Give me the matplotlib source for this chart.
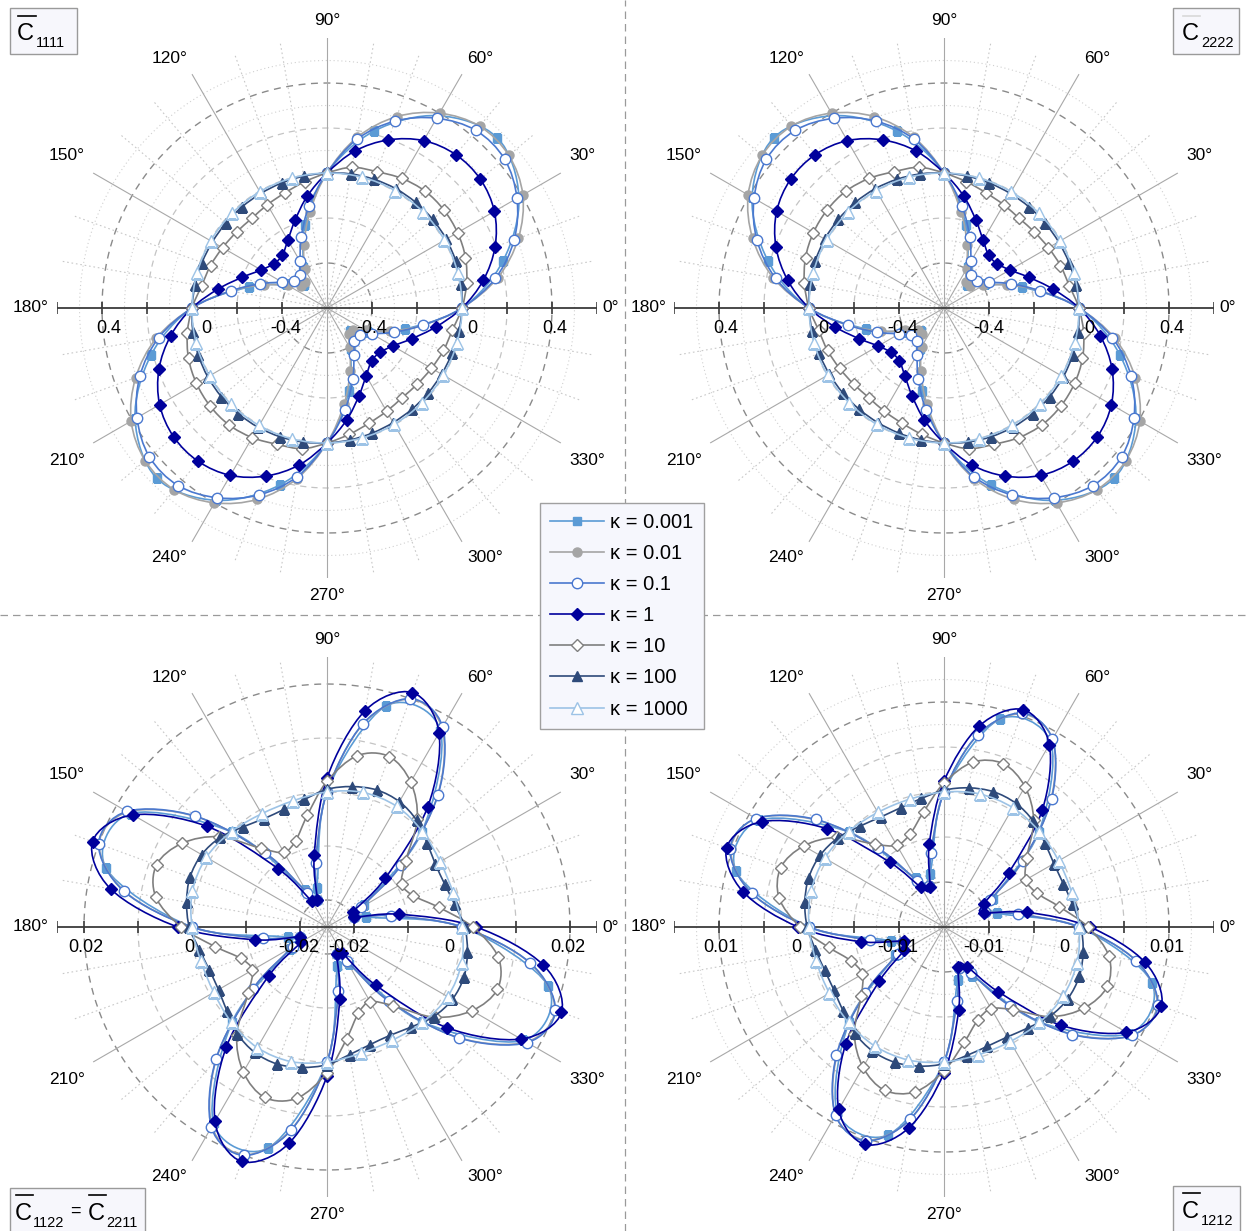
import numpy as np
import matplotlib
matplotlib.use("Agg")
import matplotlib.pyplot as plt
from matplotlib.lines import Line2D
from matplotlib.patches import Rectangle, PathPatch
from matplotlib.path import Path

plt.rcParams['font.family'] = ['Liberation Sans', 'DejaVu Sans']

# ------------------------------------------------------------------ data
labels = ['κ = 0.001', 'κ = 0.01', 'κ = 0.1', 'κ = 1', 'κ = 10', 'κ = 100', 'κ = 1000']

# C1111 / C2222: read over half a turn (the chart repeats every 180 deg)
ang10_half = [0, 10, 20, 30, 40, 50, 60, 70, 80, 90, 100, 110, 120, 130, 140, 150, 160, 170]
ang15_half = [0, 15, 30, 45, 60, 75, 90, 105, 120, 135, 150, 165]

c1111_k0001 = [0.0, 0.21, 0.385, 0.47, 0.387, 0.215, 0.0, -0.22, -0.39, -0.455, -0.39, -0.24]
c1111_k001 = [0.0, 0.17, 0.305, 0.405, 0.455, 0.455, 0.40, 0.305, 0.17, 0.0, -0.165, -0.30, -0.40, -0.45, -0.45, -0.40, -0.30, -0.165]
c1111_k01 = [0.0, 0.16, 0.285, 0.375, 0.43, 0.43, 0.374, 0.284, 0.161, 0.0, -0.14, -0.265, -0.36, -0.41, -0.41, -0.37, -0.285, -0.165]
c1111_k1 = [0.0, 0.105, 0.195, 0.259, 0.29, 0.29, 0.259, 0.195, 0.108, 0.0, -0.095, -0.185, -0.252, -0.292, -0.293, -0.262, -0.20, -0.11]
c1111_k10 = [0.0, 0.03, 0.055, 0.07, 0.078, 0.078, 0.065, 0.045, 0.035, 0.0, -0.03, -0.055, -0.07, -0.08, -0.075, -0.064, -0.049, -0.034]
c1111_k100 = [0.0, 0.005, 0.009, 0.012, 0.013, 0.013, 0.012, 0.009, 0.005, 0.0, -0.005, -0.009, -0.012, -0.013, -0.013, -0.012, -0.009, -0.005]
c1111_k1000 = [0.0, 0.002, 0.003, 0.004, 0.003, 0.002, 0.0, -0.002, -0.003, -0.004, -0.003, -0.002]

c2222_k0001 = [0.0, -0.24, -0.39, -0.455, -0.39, -0.22, 0.0, 0.215, 0.387, 0.47, 0.385, 0.21]
c2222_k001 = [0.0, -0.165, -0.30, -0.40, -0.45, -0.45, -0.40, -0.30, -0.165, 0.0, 0.17, 0.305, 0.40, 0.455, 0.455, 0.405, 0.305, 0.17]
c2222_k01 = [0.0, -0.165, -0.285, -0.37, -0.41, -0.41, -0.36, -0.265, -0.14, 0.0, 0.161, 0.284, 0.374, 0.43, 0.43, 0.375, 0.285, 0.16]
c2222_k1 = [0.0, -0.11, -0.20, -0.262, -0.293, -0.292, -0.252, -0.185, -0.095, 0.0, 0.108, 0.195, 0.259, 0.29, 0.29, 0.259, 0.195, 0.105]
c2222_k10 = [0.0, -0.034, -0.049, -0.064, -0.075, -0.08, -0.07, -0.055, -0.03, 0.0, 0.035, 0.045, 0.065, 0.078, 0.078, 0.07, 0.055, 0.03]
c2222_k100 = [0.0, -0.005, -0.009, -0.012, -0.013, -0.013, -0.012, -0.009, -0.005, 0.0, 0.005, 0.009, 0.012, 0.013, 0.013, 0.012, 0.009, 0.005]
c2222_k1000 = [0.0, -0.002, -0.003, -0.004, -0.003, -0.002, 0.0, 0.002, 0.003, 0.004, 0.003, 0.002]

# C1122 / C1212: read over a quarter turn (the chart repeats every 90 deg)
ang10_q = [0, 10, 20, 30, 40, 50, 60, 70, 80]
ang15_q = [0, 15, 30, 45, 60, 75]

c1122_k0001 = [0.0, -0.0175, -0.0170, -0.0002, 0.0170, 0.0174]
c1122_k001 = [0.0, -0.0129, -0.0196, -0.0176, -0.0069, 0.0069, 0.0176, 0.0199, 0.0131]
c1122_k01 = [0.0, -0.0130, -0.0197, -0.0177, -0.0070, 0.0070, 0.0178, 0.0200, 0.0132]
c1122_k1 = [0.0026, -0.0114, -0.0196, -0.0195, -0.0109, 0.0040, 0.0165, 0.0212, 0.0157]
c1122_k10 = [0.002, -0.004, -0.008, -0.009, -0.006, 0.001, 0.006, 0.0086, 0.0072]
c1122_k100 = [0.0005, -0.001, -0.0018, -0.0018, -0.0008, 0.0008, 0.0018, 0.002, 0.0014]
c1122_k1000 = [0.0, -0.0008, -0.0008, 0.0, 0.0008, 0.0008]

c1212_k0001 = [0.0, -0.0089, -0.0087, -0.0001, 0.0087, 0.0089]
c1212_k001 = [0.0, -0.0066, -0.0100, -0.0091, -0.0035, 0.0035, 0.0091, 0.0102, 0.0067]
c1212_k01 = [0.0, -0.0067, -0.0101, -0.0091, -0.0036, 0.0036, 0.0091, 0.0103, 0.0067]
c1212_k1 = [0.0012, -0.0056, -0.0103, -0.0099, -0.0056, 0.0020, 0.0084, 0.0107, 0.0077]
c1212_k10 = [0.001, -0.002, -0.004, -0.0045, -0.003, 0.0005, 0.003, 0.0043, 0.0036]
c1212_k100 = [0.0002, -0.0005, -0.0009, -0.0009, -0.0004, 0.0004, 0.0009, 0.001, 0.0007]
c1212_k1000 = [0.0, -0.0003, -0.0003, 0.0, 0.0003, 0.0003]

# radial axis settings per panel
axes_cfg = {
    'TL': dict(lim=(-0.6, 0.6), ticks=[-0.4, -0.2, 0.0, 0.2, 0.4], lab=[-0.4, 0.0, 0.4],
               txt=['-0.4', '0', '0.4'], zero_dx=(15, 19)),
    'TR': dict(lim=(-0.6, 0.6), ticks=[-0.4, -0.2, 0.0, 0.2, 0.4], lab=[-0.4, 0.0, 0.4],
               txt=['-0.4', '0', '0.4'], zero_dx=(15, 19)),
    'BL': dict(lim=(-0.025, 0.025), ticks=[-0.02, -0.01, 0.0, 0.01, 0.02], lab=[-0.02, 0.0, 0.02],
               txt=['-0.02', '0', '0.02'], zero_dx=(-8, 2)),
    'BR': dict(lim=(-0.015, 0.015), ticks=[-0.01, -0.005, 0.0, 0.005, 0.01], lab=[-0.01, 0.0, 0.01],
               txt=['-0.01', '0', '0.01'], zero_dx=(-10, -8)),
}

panel_series = {
    'TL': (180, [(ang15_half, c1111_k0001), (ang10_half, c1111_k001), (ang10_half, c1111_k01),
                 (ang10_half, c1111_k1), (ang10_half, c1111_k10), (ang10_half, c1111_k100),
                 (ang15_half, c1111_k1000)]),
    'TR': (180, [(ang15_half, c2222_k0001), (ang10_half, c2222_k001), (ang10_half, c2222_k01),
                 (ang10_half, c2222_k1), (ang10_half, c2222_k10), (ang10_half, c2222_k100),
                 (ang15_half, c2222_k1000)]),
    'BL': (90, [(ang15_q, c1122_k0001), (ang10_q, c1122_k001), (ang10_q, c1122_k01),
                (ang10_q, c1122_k1), (ang10_q, c1122_k10), (ang10_q, c1122_k100),
                (ang15_q, c1122_k1000)]),
    'BR': (90, [(ang15_q, c1212_k0001), (ang10_q, c1212_k001), (ang10_q, c1212_k01),
                (ang10_q, c1212_k1), (ang10_q, c1212_k10), (ang10_q, c1212_k100),
                (ang15_q, c1212_k1000)]),
}

styles = [
    dict(color='#5b9bd5', marker='s', mfc='#5b9bd5', mec='#5b9bd5', ms=5.5),
    dict(color='#a5a5a5', marker='o', mfc='#a5a5a5', mec='#a5a5a5', ms=6.5),
    dict(color='#4a78cf', marker='o', mfc='white', mec='#4a78cf', ms=7.5),
    dict(color='#00009c', marker='D', mfc='#00009c', mec='#00009c', ms=6.5),
    dict(color='#7f7f7f', marker='D', mfc='white', mec='#7f7f7f', ms=6.5),
    dict(color='#2e4a7a', marker='^', mfc='#2e4a7a', mec='#2e4a7a', ms=7),
    dict(color='#9dc3e6', marker='^', mfc='white', mec='#9dc3e6', ms=8),
]
LW = 1.2

# ------------------------------------------------------------------ figure
W, H = 1250, 1231
fig = plt.figure(figsize=(W / 100, H / 100), dpi=100)
R_PX = 270
PT = 0.72  # points per pixel at 100 dpi
centers = {'TL': (327, 308), 'TR': (944, 308), 'BL': (327, 927), 'BR': (944, 927)}


def fx(px):
    return px / W


def fy(py):
    return 1 - py / H


def smooth_closed_path(theta, r, vmin):
    """Closed curve through the data points, drawn as cubic Bezier segments
    (Catmull-Rom style smoothing, as in a 'smoothed line' chart)."""
    rho = np.asarray(r, float) - vmin
    P = np.column_stack([rho * np.cos(theta), rho * np.sin(theta)])
    n = len(P)
    verts = [P[0]]
    codes = [Path.MOVETO]
    for i in range(n):
        p0, p1, p2, p3 = P[i - 1], P[i], P[(i + 1) % n], P[(i + 2) % n]
        verts += [p1 + (p2 - p0) / 6.0, p2 - (p3 - p1) / 6.0, p2]
        codes += [Path.CURVE4] * 3
    V = np.array(verts)
    return Path(np.column_stack([np.arctan2(V[:, 1], V[:, 0]), np.hypot(V[:, 0], V[:, 1]) + vmin]), codes)


# panel dividers
fig.add_artist(Line2D([fx(625), fx(625)], [0, 1], transform=fig.transFigure,
                      color='#9a9a9a', lw=0.9, ls=(0, (6, 4))))
fig.add_artist(Line2D([0, 1], [fy(615), fy(615)], transform=fig.transFigure,
                      color='#9a9a9a', lw=0.9, ls=(0, (6, 4))))

for key, (cx, cy) in centers.items():
    cfg = axes_cfg[key]
    vmin, vmax = cfg['lim']
    ax = fig.add_axes([fx(cx - R_PX), fy(cy + R_PX), 2 * R_PX / W, 2 * R_PX / H],
                      projection='polar')
    ax.set_ylim(vmin, vmax)
    ax.set_axis_off()
    step = cfg['ticks'][1] - cfg['ticks'][0]
    th = np.linspace(0, 2 * np.pi, 721)
    # minor dotted circles (half steps)
    r = vmin + step / 2
    while r < vmax - 1e-12:
        if min(abs(r - t) for t in cfg['ticks']) > step / 4:
            ax.plot(th, np.full_like(th, r), color='#d0d0d0', lw=0.8, ls=(0, (1, 2.5)), zorder=1)
        r += step
    # major dashed circles
    for t in cfg['ticks']:
        dark = t in (cfg['lab'][0], cfg['lab'][-1])
        ax.plot(th, np.full_like(th, t), color='#8a8a8a' if dark else '#c4c4c4',
                lw=1.0 if dark else 0.9, ls=(0, (5, 4)), zorder=1)
    # spokes
    for deg in range(0, 360, 10):
        if deg in (0, 180):
            continue
        a = np.deg2rad(deg)
        if deg % 30 == 0:
            ax.plot([a, a], [vmin, vmax], color='#a8a8a8', lw=0.8, zorder=1)
        else:
            ax.plot([a, a], [vmin, vmax], color='#c8c8c8', lw=0.8, ls=(0, (1.5, 2.5)), zorder=1)
    # horizontal axis with ticks
    for side, a in enumerate((0.0, np.pi)):
        ax.plot([a, a], [vmin, vmax], color='#3a3a3a', lw=1.3, zorder=2, solid_capstyle='butt')
        ax.plot([a] * (len(cfg['ticks']) + 1), cfg['ticks'] + [vmax], ls='none', marker='|', ms=8,
                mew=1.2, color='#3a3a3a', zorder=2)
        for v, s in zip(cfg['lab'], cfg['txt']):
            dx = cfg['zero_dx'][side] if v == 0 else (15, 19)[side]
            ax.annotate(s, xy=(a, v), xytext=(dx * PT, -21 * PT), textcoords='offset points',
                        ha='right', va='center', fontsize=13, color='black', zorder=6)
    # angle labels
    r_anchor = vmin + (vmax - vmin) * 280 / R_PX
    for deg in range(30, 360, 30):
        if deg == 180:
            continue
        a = np.deg2rad(deg)
        c, s = np.cos(a), np.sin(a)
        ha = 'left' if c > 0.01 else ('right' if c < -0.01 else 'center')
        va = 'bottom' if s > 0.01 else ('top' if s < -0.01 else 'center')
        dy = 0.0
        if abs(abs(s) - 0.5) < 0.01:
            dy = 5 * PT * np.sign(s)
        ax.annotate(f'{deg}°', xy=(a, r_anchor), xytext=(0, dy), textcoords='offset points',
                    ha=ha, va=va, fontsize=12.5, annotation_clip=False)
    ax.annotate('0°', xy=(0.0, vmax), xytext=(5 * PT, 0), textcoords='offset points',
                ha='left', va='center', fontsize=12.5, annotation_clip=False)
    ax.annotate('180°', xy=(np.pi, vmax), xytext=(-8 * PT, 0), textcoords='offset points',
                ha='right', va='center', fontsize=12.5, annotation_clip=False)

    # data: smooth line + markers for each series
    period, series = panel_series[key]
    reps = 360 // period
    for i, ((angs, vals), st) in enumerate(zip(series, styles)):
        full_ang = [a + k * period for k in range(reps) for a in angs]
        theta = np.deg2rad(full_ang)
        rv = list(vals) * reps
        z = 3 + i * 0.1
        ax.add_patch(PathPatch(smooth_closed_path(theta, rv, vmin), facecolor='none',
                               edgecolor=st['color'], lw=LW, zorder=z, transform=ax.transData))
        ax.plot(theta, rv, ls='none', marker=st['marker'], mfc=st['mfc'], mec=st['mec'],
                ms=st['ms'], markeredgewidth=1.0, zorder=z + 0.05)

# legend
handles = [Line2D([], [], lw=LW, markeredgewidth=1.0, **st) for st in styles]
leg = fig.legend(handles, labels, loc='upper left', bbox_to_anchor=(fx(540), fy(503)),
                 bbox_transform=fig.transFigure, fontsize=14.5, frameon=True,
                 fancybox=False, facecolor='#f6f7fd', edgecolor='#a0a0a0',
                 handlelength=2.7, handletextpad=0.3, labelspacing=0.6,
                 borderpad=0.5, borderaxespad=0)
leg.get_frame().set_linewidth(1.0)
leg.get_frame().set_alpha(1)
leg.set_zorder(20)


# title boxes
def title_box(x0, y0, x1, y1, parts, over_color='black'):
    fig.add_artist(Rectangle((fx(x0), fy(y1)), fx(x1) - fx(x0), fy(y0) - fy(y1),
                             transform=fig.transFigure, facecolor='#f7f7fc',
                             edgecolor='#9a9a9a', lw=1.0, zorder=10))
    for (xc, yb, xs, ysb, sub, ox0, ox1, oy) in parts:
        fig.text(fx(xc), fy(yb), 'C', fontsize=17, ha='left', va='baseline', zorder=11)
        fig.text(fx(xs), fy(ysb), sub, fontsize=10.5, ha='left', va='baseline', zorder=11)
        fig.add_artist(Line2D([fx(ox0), fx(ox1)], [fy(oy), fy(oy)], transform=fig.transFigure,
                              color=over_color, lw=1.2, zorder=11))


title_box(10, 8, 77, 54, [(17, 40, 36, 47, '1111', 18, 36, 16)])
title_box(1173, 8, 1239, 54, [(1182, 40, 1201, 47, '2222', 1183, 1200, 16)], over_color='#d8d8d8')
title_box(10, 1188, 145, 1240, [(15, 1220, 33, 1227, '1122', 16, 33, 1195),
                                 (88, 1220, 106, 1227, '2211', 89, 106, 1195)])
fig.text(fx(70), fy(1216), '=', fontsize=13, ha='left', va='baseline', zorder=11)
title_box(1173, 1186, 1240, 1240, [(1182, 1218, 1201, 1225, '1212', 1183, 1200, 1193)])

fig.savefig('out.png', dpi=100)
